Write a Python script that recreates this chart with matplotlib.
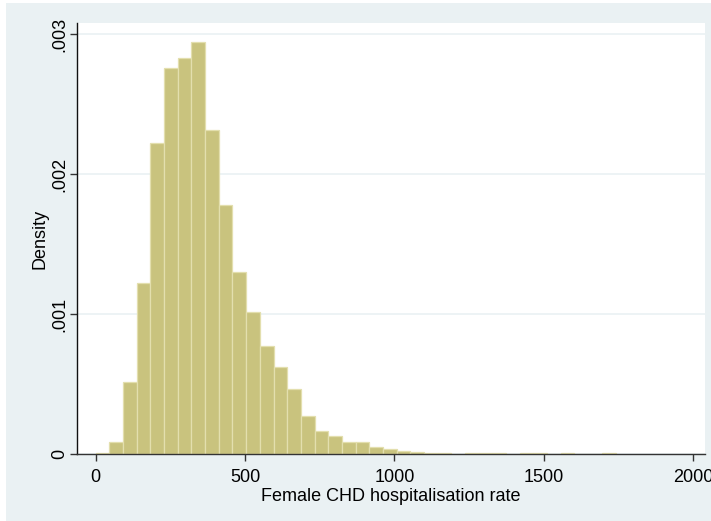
import numpy as np
import matplotlib
matplotlib.use('Agg')
from matplotlib import pyplot as plt
from matplotlib.patches import Rectangle

## histogram data: bins start at 0, equal width
bin_start = 0.0
bin_width = 45.8
density = [0.000007, 0.000084, 0.000514, 0.001224, 0.002224, 0.002757,
           0.002829, 0.002941, 0.002317, 0.001779, 0.001302, 0.001017,
           0.000774, 0.000624, 0.000464, 0.000274, 0.000167, 0.000129,
           0.000088, 0.000088, 0.000052, 0.000036, 0.000024, 0.000017,
           0.000004, 0.000010, 0.0, 0.000007, 0.000007, 0.000007,
           0.0, 0.000007, 0.000007, 0.0, 0.000007, 0.0, 0.0, 0.000007]

xticks = [0, 500, 1000, 1500, 2000]
yticks = [0, 0.001, 0.002, 0.003]
ylabels = ['0', '.001', '.002', '.003']

xlabel = 'Female CHD hospitalisation rate'
ylabel = 'Density'

plt.rcParams['font.family'] = ['Liberation Sans', 'DejaVu Sans']
fs = 13

W, H = 711, 521
fig = plt.figure(figsize=(W / 100.0, H / 100.0), dpi=100)
fig.patch.set_facecolor('white')

# graph region background, kept behind the axes
bg = '#EAF1F3'
fig.add_artist(Rectangle((6.0 / W, 0), 1 - 6.0 / W, 1 - 3.0 / H,
                         transform=fig.transFigure, facecolor=bg,
                         edgecolor='none', zorder=-10))

ax = fig.add_axes([77.0 / W, (H - 454.0) / H, (705.0 - 77.0) / W, (454.0 - 23.0) / H])
ax.set_facecolor('white')

edges = bin_start + bin_width * np.arange(len(density))
ax.bar(edges, density, width=bin_width, align='edge',
       color='#C9C37E', edgecolor='#E3DFAE', linewidth=0.9, zorder=2)

ax.set_xlim(-62.6, 2040)
ax.set_ylim(0, 0.003079)

ax.set_yticks(yticks)
ax.set_yticklabels(ylabels, rotation=90, va='center')
ax.set_xticks(xticks)
ax.grid(axis='y', color=bg, linewidth=1.2, zorder=1)
ax.set_axisbelow(True)

for s in ['top', 'right']:
    ax.spines[s].set_visible(False)
ax.spines['left'].set_color('#111111')
ax.spines['bottom'].set_color('#333333')
ax.spines['left'].set_linewidth(1.0)
ax.spines['bottom'].set_linewidth(1.0)

ax.tick_params(axis='both', length=5, width=1.0, color='#333333',
               labelsize=fs)
ax.tick_params(axis='x', pad=6)
ax.tick_params(axis='y', pad=1)

ax.set_xlabel(xlabel, fontsize=fs, labelpad=1)
ax.set_ylabel(ylabel, fontsize=fs, labelpad=2)

plt.savefig('out.png', dpi=100, facecolor=fig.get_facecolor())
